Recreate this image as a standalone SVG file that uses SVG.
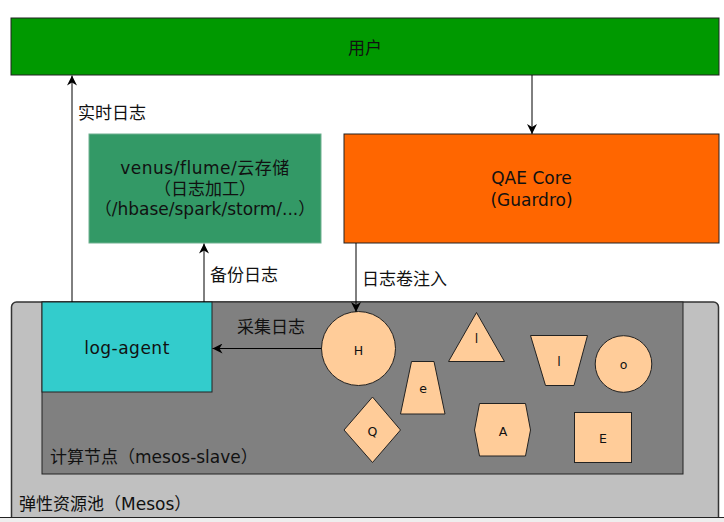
<svg xmlns="http://www.w3.org/2000/svg" width="724" height="522" viewBox="0 0 724 522">
<defs>
<style>
text{font-family:"DejaVu Sans","Noto Sans CJK SC",sans-serif;fill:#111;}
.t{font-size:17px;}
.s{font-size:12.5px;text-anchor:middle;}
.m{text-anchor:middle;}
.w{letter-spacing:0.5px;}
.box{stroke:#222;stroke-width:1;}
.shape{fill:#FFCC99;stroke:#222;stroke-width:1;}
.conn{stroke:#000;stroke-width:1;fill:none;marker-end:url(#ah);}
</style>
<marker id="ah" viewBox="0 0 10 10" refX="10" refY="5" markerWidth="10" markerHeight="10" markerUnits="userSpaceOnUse" orient="auto">
<path d="M0,0 L10,5 L0,10 L3,5 Z" fill="#000"/>
</marker>
</defs>
<rect x="0" y="0" width="724" height="522" fill="#fff"/>

<g id="user">
<rect class="box" x="11" y="18" width="708" height="57" fill="#009900"/>
<text class="t m" x="365" y="54">用户</text>
</g>

<g id="storage">
<rect x="89" y="134" width="232" height="109" fill="#339966" stroke="#6fb08f" stroke-width="1"/>
<text class="t m w" x="205" y="174">venus/flume/云存储</text>
<text class="t m" x="205" y="194.5">（日志加工）</text>
<text class="t m" x="205" y="215">（/hbase/spark/storm/...）</text>
</g>

<g id="qae">
<rect class="box" x="344" y="134" width="375" height="109" fill="#FF6600"/>
<text class="t m" x="531.5" y="184">QAE Core</text>
<text class="t m" x="531.5" y="206">(Guardro)</text>
</g>

<g id="mesos">
<rect x="11.5" y="302" width="707" height="240" rx="5" fill="#C0C0C0" stroke="#333" stroke-width="1.5"/>
<text class="t" x="19" y="510">弹性资源池（Mesos）</text>
</g>

<g id="slave">
<rect class="box" x="42" y="302" width="641" height="172" fill="#808080"/>
<text class="t" x="50" y="463">计算节点（mesos-slave）</text>
</g>

<g id="log-agent">
<rect class="box" x="42" y="302" width="170" height="90" fill="#33CCCC"/>
<text class="t m w" x="127" y="354">log-agent</text>
</g>

<g id="H">
<circle class="shape" cx="358.5" cy="348.5" r="37"/>
<text class="s" x="358.5" y="355">H</text>
</g>
<g id="l1">
<polygon class="shape" points="476.5,312.5 448.5,361.5 504.5,361.5"/>
<text class="s" x="476.5" y="343">l</text>
</g>
<g id="e">
<polygon class="shape" points="411.5,361.5 434,361.5 445,414 400.5,414"/>
<text class="s" x="423" y="393">e</text>
</g>
<g id="l2">
<polygon class="shape" points="530.5,335.5 587.5,335.5 574,385.5 545.5,385.5"/>
<text class="s" x="559" y="366">l</text>
</g>
<g id="o">
<circle class="shape" cx="623.5" cy="364" r="28.3"/>
<text class="s" x="623.5" y="369">o</text>
</g>
<g id="Q">
<polygon class="shape" points="372.5,397 400.5,430 372.5,462.5 344,430"/>
<text class="s" x="372.5" y="436">Q</text>
</g>
<g id="A">
<polygon class="shape" points="479.5,403.5 525.5,403.5 530.5,430 525.5,456 479.5,456 474.5,430"/>
<text class="s" x="503" y="435.5">A</text>
</g>
<g id="E">
<rect class="shape" x="574.5" y="412.5" width="57" height="50"/>
<text class="s" x="603" y="443">E</text>
</g>

<g id="connectors">
<line class="conn" x1="72" y1="302" x2="72" y2="75.5"/>
<line class="conn" x1="532" y1="75" x2="532" y2="134"/>
<line class="conn" x1="204" y1="302" x2="204" y2="243.5"/>
<line class="conn" x1="356" y1="243" x2="356" y2="312"/>
<line class="conn" x1="321.5" y1="348.5" x2="212.5" y2="348.5"/>
<text class="t" x="78" y="119">实时日志</text>
<text class="t" x="210" y="281">备份日志</text>
<text class="t" x="362" y="285">日志卷注入</text>
<text class="t" x="237" y="333">采集日志</text>
</g>

<rect x="0" y="518" width="724" height="4" fill="#eeeeee"/>
<line x1="0" y1="517.5" x2="724" y2="517.5" stroke="#222" stroke-width="1"/>
</svg>
